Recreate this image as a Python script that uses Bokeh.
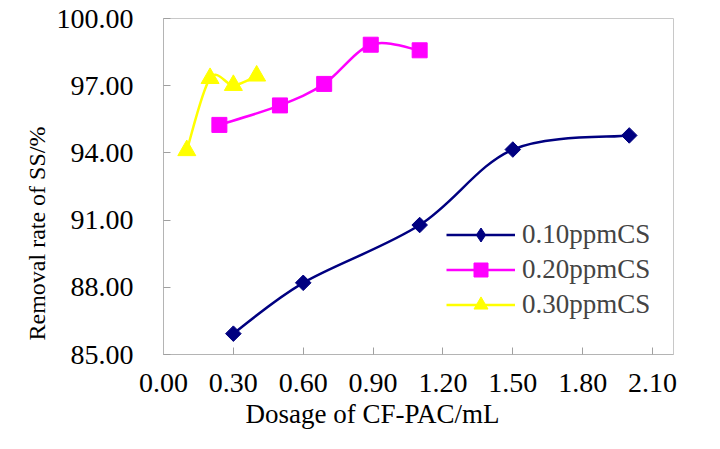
import numpy as np
from bokeh.plotting import figure
from bokeh.models import FixedTicker, NumeralTickFormatter, Legend, LegendItem, Range1d, Title
from bokeh.embed import file_html
from bokeh.resources import INLINE

# ---- data ----
x_ticks = [0.0, 0.3, 0.6, 0.9, 1.2, 1.5, 1.8, 2.1]
y_ticks = [85, 88, 91, 94, 97, 100]

dose_010 = [0.3, 0.6, 1.1, 1.5, 2.0]
rate_010 = [85.93, 88.20, 90.78, 94.15, 94.78]

dose_020 = [0.24, 0.5, 0.69, 0.89, 1.1]
rate_020 = [95.25, 96.12, 97.08, 98.83, 98.58]

dose_030 = [0.1, 0.2, 0.3, 0.4]
rate_030 = [94.11, 97.33, 97.02, 97.44]

labels = ["0.10ppmCS", "0.20ppmCS", "0.30ppmCS"]
colors = ["#000080", "#FF00FF", "#FFFF00"]
x_title = "Dosage of CF-PAC/mL"
y_title = "Removal rate of SS/%"

FONT = "Liberation Serif"


def smooth_segments(xs, ys):
    """Bezier control points for an Excel-style smoothed line through the data."""
    P = np.column_stack([xs, ys]).astype(float)
    Pm = np.vstack([P[0], P, P[-1]])
    out = {k: [] for k in ("x0", "y0", "x1", "y1", "cx0", "cy0", "cx1", "cy1")}
    for i in range(len(P) - 1):
        p0, p1, p2, p3 = Pm[i], Pm[i + 1], Pm[i + 2], Pm[i + 3]
        c0 = p1 + (p2 - p0) / 6.0
        c1 = p2 - (p3 - p1) / 6.0
        out["x0"].append(p1[0]); out["y0"].append(p1[1])
        out["x1"].append(p2[0]); out["y1"].append(p2[1])
        out["cx0"].append(c0[0]); out["cy0"].append(c0[1])
        out["cx1"].append(c1[0]); out["cy1"].append(c1[1])
    return out


p = figure(width=704, height=433, output_backend="svg", toolbar_location=None,
           x_range=Range1d(0, 2.19), y_range=Range1d(85, 100),
           min_border_left=163, min_border_right=31, min_border_top=18, min_border_bottom=79)

p.background_fill_color = "white"
p.border_fill_color = "white"
p.outline_line_color = "#c8c8c8"
p.outline_line_width = 1
p.xgrid.visible = False
p.ygrid.visible = False

for ax in (p.xaxis[0], p.yaxis[0]):
    ax.axis_line_color = "#b4b4b4"
    ax.major_tick_line_color = "#a0a0a0"
    ax.major_tick_in = 7
    ax.major_tick_out = 0
    ax.minor_tick_line_color = None
    ax.major_label_text_font = FONT
    ax.major_label_text_font_size = "28px"
    ax.major_label_text_color = "black"
    ax.formatter = NumeralTickFormatter(format="0.00")

p.xaxis.ticker = FixedTicker(ticks=x_ticks)
p.yaxis.ticker = FixedTicker(ticks=y_ticks)
p.xaxis.major_label_standoff = 19
p.yaxis.major_label_standoff = 30

# axis titles as side-panel titles so they can sit off the frame centre like the original
p.add_layout(Title(text=x_title, align="left", offset=82, standoff=5,
                   text_font=FONT, text_font_size="27px", text_font_style="normal",
                   text_color="black"), "below")
p.add_layout(Title(text=y_title, align="left", offset=14, standoff=7,
                   text_font=FONT, text_font_size="24px", text_font_style="normal",
                   text_color="black"), "left")

series = [
    (dose_010, rate_010, "square", 11, np.pi / 4, "diamond"),
    (dose_020, rate_020, "square", 15, 0.0, "square"),
    (dose_030, rate_030, "triangle", 18, 0.0, "triangle"),
]

items = []
for (xs, ys, marker, size, ang, leg_marker), lab, col in zip(series, labels, colors):
    seg = smooth_segments(xs, ys)
    bz = p.bezier(x0=seg["x0"], y0=seg["y0"], x1=seg["x1"], y1=seg["y1"],
                  cx0=seg["cx0"], cy0=seg["cy0"], cx1=seg["cx1"], cy1=seg["cy1"],
                  line_color=col, line_width=2.5)
    p.scatter(xs, ys, marker=marker, size=size, angle=ang,
              fill_color=col, line_color=col, line_width=1)
    # legend-only marker (nothing drawn in the plot area)
    lg = p.scatter([float("nan")], [float("nan")], marker=leg_marker, size=size,
                   fill_color=col, line_color=col, line_width=1)
    items.append(LegendItem(label=lab, renderers=[bz, lg]))

legend = Legend(items=items, location=(283, 32), orientation="vertical",
                glyph_width=69, glyph_height=35, label_height=35, spacing=0,
                padding=0, margin=0, label_standoff=7,
                border_line_alpha=0, background_fill_alpha=0,
                label_text_font=FONT, label_text_font_size="27px")
p.add_layout(legend)

open("out.html", "w").write(file_html(p, INLINE))
